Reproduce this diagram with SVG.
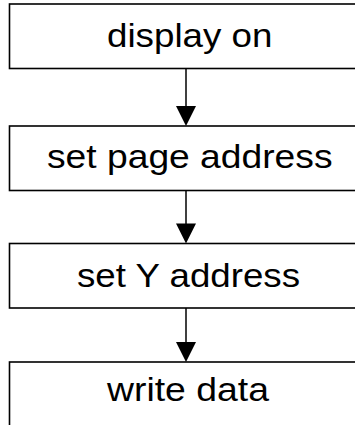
<svg xmlns="http://www.w3.org/2000/svg" width="355" height="425" viewBox="0 0 355 425">
<style>
.box{fill:#fff;stroke:#000;stroke-width:1.6}
.lbl{font-family:"Liberation Sans",Arial,sans-serif;font-size:33px;fill:#000}
.conn{stroke:#000;stroke-width:1.5;fill:none}
.head{fill:#000}
</style>
<rect width="355" height="425" fill="#fff"/>
<g id="n1"><rect class="box" x="9.5" y="4" width="365" height="64.5"/><text class="lbl" x="107" y="47" textLength="165.5" lengthAdjust="spacingAndGlyphs">display on</text></g>
<g id="n2"><rect class="box" x="9.5" y="126" width="365" height="64.5"/><text class="lbl" x="47" y="168" textLength="285.5" lengthAdjust="spacingAndGlyphs">set page address</text></g>
<g id="n3"><rect class="box" x="9.5" y="243.5" width="365" height="64.5"/><text class="lbl" x="77" y="287" textLength="223" lengthAdjust="spacingAndGlyphs">set Y address</text></g>
<g id="n4"><rect class="box" x="9.5" y="362" width="365" height="80"/><text class="lbl" x="107" y="400.5" textLength="162" lengthAdjust="spacingAndGlyphs">write data</text></g>
<g id="connectors">
<line class="conn" x1="186" y1="68.5" x2="186" y2="108"/><polygon class="head" points="176,106 196,106 186,126"/>
<line class="conn" x1="186" y1="190.5" x2="186" y2="225"/><polygon class="head" points="176,223.5 196,223.5 186,243.5"/>
<line class="conn" x1="186" y1="308" x2="186" y2="344"/><polygon class="head" points="176,342 196,342 186,362"/>
</g>
</svg>
